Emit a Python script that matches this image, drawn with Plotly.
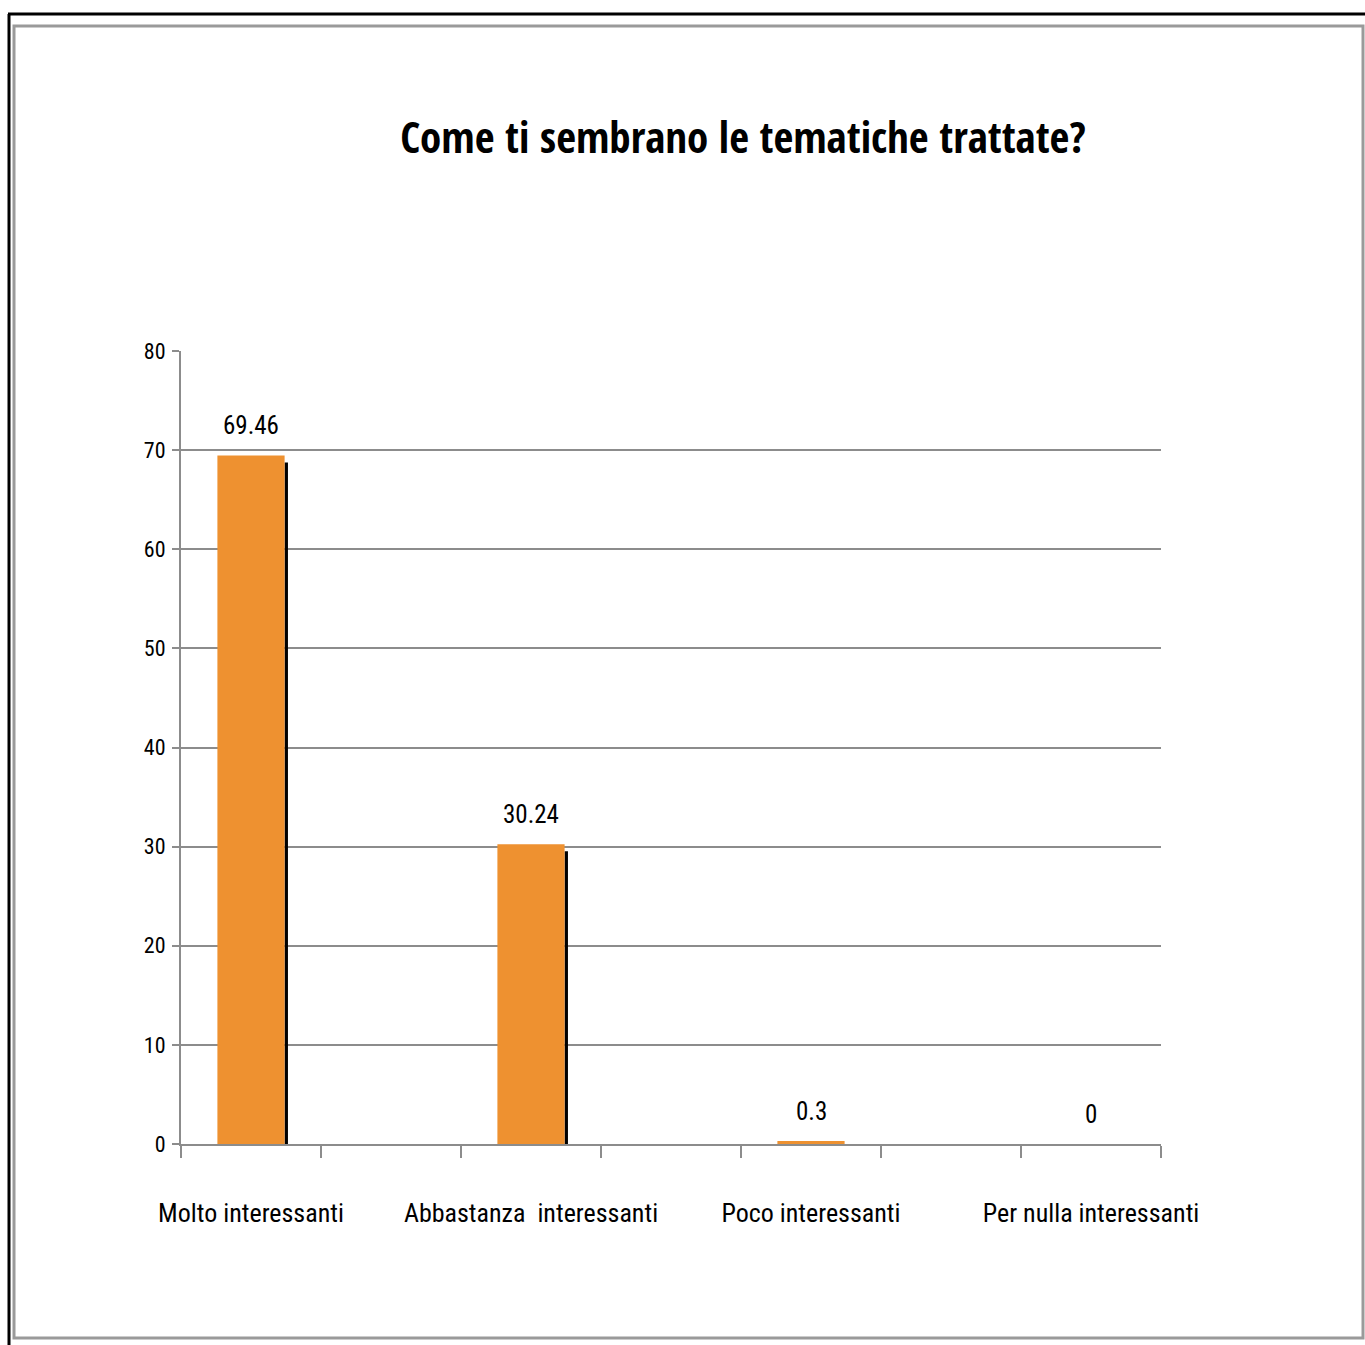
import plotly.graph_objects as go

categories = ["Molto interessanti", "Abbastanza  interessanti", "Poco interessanti", "Per nulla interessanti"]
values = [69.46, 30.24, 0.3, 0]
y_ticks = [0, 10, 20, 30, 40, 50, 60, 70, 80]
title_text = "Come ti sembrano le tematiche trattate?"

FONT = "Roboto Condensed, Open Sans Condensed, DejaVu Sans Condensed, sans-serif"
TFONT = "Open Sans Condensed, Roboto Condensed, DejaVu Sans Condensed, sans-serif"
GRID = "#8c8c8c"
BAR = "#EE9130"

xpos = list(range(len(categories)))
W, H = 1365, 1345
L, R, T, B = 181, 204, 351, 201
pw, ph = W - L - R, H - T - B

def px(x):
    return (x - L) / pw

def py(y):
    return (H - B - y) / ph

fig = go.Figure()

# shadow on the right edge of each bar
fig.add_trace(go.Bar(
    x=xpos, y=[max(v - 0.7, 0) for v in values],
    width=0.012, offset=0.12,
    marker=dict(color="#000000", line=dict(width=0)),
    hoverinfo="skip", showlegend=False,
))
fig.add_trace(go.Bar(
    x=xpos, y=values,
    width=0.24, offset=-0.12,
    marker=dict(color=BAR, line=dict(width=0)),
    showlegend=False,
))

for i, v in enumerate(values):
    fig.add_annotation(
        x=xpos[i], y=v, text=f"{v:g}", showarrow=False,
        yanchor="bottom", yshift=13,
        font=dict(family=FONT, size=25, color="#000000"),
    )

shapes = [
    dict(type="rect", xref="paper", yref="paper",
         x0=px(14), x1=px(1363), y0=py(1338), y1=py(26),
         line=dict(color="#9a9a9a", width=3), layer="below"),
    dict(type="line", xref="paper", yref="paper",
         x0=px(8), x1=px(1366), y0=py(14), y1=py(14),
         line=dict(color="#000000", width=3)),
    dict(type="line", xref="paper", yref="paper",
         x0=px(9), x1=px(9), y0=py(14), y1=py(1346),
         line=dict(color="#000000", width=3)),
]

fig.update_layout(
    width=W, height=H,
    margin=dict(l=L, r=R, t=T, b=B),
    paper_bgcolor="white", plot_bgcolor="white",
    barmode="overlay",
    showlegend=False,
    shapes=shapes,
    title=dict(
        text=title_text,
        x=743 / W, xanchor="center", xref="container",
        y=1 - 138 / H, yanchor="middle", yref="container",
        font=dict(family=TFONT, size=43, color="#000000", weight="bold"),
    ),
    xaxis=dict(
        range=[-0.25, 3.25],
        tickmode="array", tickvals=xpos, ticktext=categories,
        ticks="", ticklabelstandoff=45,
        tickfont=dict(family=FONT, size=26, color="#000000"),
        showgrid=False, zeroline=False,
        showline=True, linecolor=GRID, linewidth=2,
        minor=dict(tick0=-0.25, dtick=0.5, ticks="outside", ticklen=12,
                   tickcolor=GRID, tickwidth=2, showgrid=False),
    ),
    yaxis=dict(
        range=[0, 80],
        tickmode="array", tickvals=y_ticks,
        ticks="outside", ticklen=7, tickcolor=GRID, tickwidth=2,
        tickfont=dict(family=FONT, size=22, color="#000000"),
        ticklabelstandoff=2,
        showgrid=True, gridcolor=GRID, gridwidth=2,
        zeroline=False,
        showline=True, linecolor=GRID, linewidth=2,
    ),
)

fig.write_html("out.html", config={"displayModeBar": False},
               post_script="document.body.style.margin='0';document.body.style.overflow='hidden';")
